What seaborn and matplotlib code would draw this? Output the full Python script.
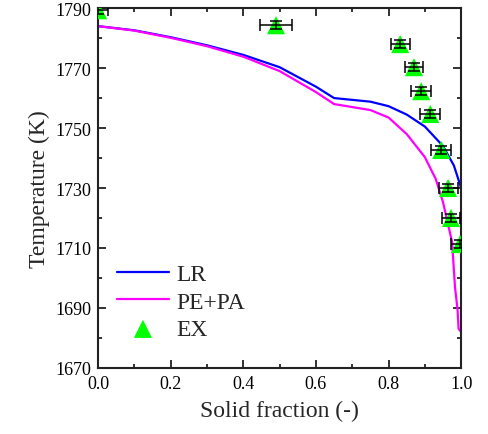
import numpy as np
import pandas as pd
import matplotlib
matplotlib.use("Agg")
import matplotlib.pyplot as plt
from matplotlib.ticker import MultipleLocator, FixedLocator
import seaborn as sns

# Data
lr_x = [0.0, 0.1, 0.2, 0.3, 0.4, 0.5, 0.6, 0.65, 0.75, 0.8, 0.85, 0.9, 0.95, 0.98, 1.0]
lr_y = [1784, 1782.6, 1780.3, 1777.6, 1774.4, 1770.3, 1763.8, 1760, 1758.8, 1757.3, 1754.5, 1750.5, 1744, 1737.5, 1730]
pe_x = [0.0, 0.1, 0.2, 0.3, 0.4, 0.5, 0.6, 0.65, 0.75, 0.8, 0.85, 0.9, 0.93, 0.95, 0.975, 0.983, 0.99, 0.993, 1.0]
pe_y = [1784, 1782.5, 1780.1, 1777.3, 1773.8, 1769, 1762, 1758, 1756, 1753.5, 1748, 1740.3, 1733, 1725.3, 1712, 1697, 1689.5, 1683, 1682]
ex_x = [0.0, 0.49, 0.832, 0.870, 0.890, 0.915, 0.945, 0.964, 0.972, 0.997]
ex_y = [1789.3, 1784.3, 1778, 1770.3, 1762.3, 1754.7, 1742.7, 1730, 1720, 1711.3]
ex_xerr = [0.026, 0.045, 0.026, 0.026, 0.027, 0.027, 0.027, 0.026, 0.026, 0.026]
ex_yerr = [1.3, 1.3, 1.3, 1.3, 1.3, 1.3, 1.3, 1.3, 1.3, 1.3]
y_ticks = [1670, 1690, 1710, 1730, 1750, 1770, 1790]
x_ticks = [0.0, 0.2, 0.4, 0.6, 0.8, 1.0]
x_ticklabels = ["0.0", "0.2", "0.4", "0.6", "0.8", "1.0"]

sns.set_style("ticks")
plt.rcParams['font.family'] = ['Liberation Serif', 'DejaVu Serif']

fig = plt.figure(figsize=(4.88, 4.35), dpi=100)
ax = fig.add_axes([0.201, 0.152, 0.744, 0.827])

lr = pd.DataFrame({"x": lr_x, "y": lr_y})
pe = pd.DataFrame({"x": pe_x, "y": pe_y})
ex = pd.DataFrame({"x": ex_x, "y": ex_y})

sns.lineplot(data=lr, x="x", y="y", ax=ax, color="#0000FF", lw=1.6,
             sort=False, estimator=None, label="LR", zorder=2)
sns.lineplot(data=pe, x="x", y="y", ax=ax, color="#FF00FF", lw=1.6,
             sort=False, estimator=None, label="PE+PA", zorder=2)
sns.scatterplot(data=ex, x="x", y="y", ax=ax, marker="^", s=170, color="#00FF00",
                edgecolor="none", linewidth=0, label="EX", zorder=3)
ax.errorbar(ex_x, ex_y, xerr=ex_xerr, yerr=ex_yerr, fmt="none", ecolor="black",
            elinewidth=1.1, capsize=4, capthick=1.1, zorder=4)

ax.set_xlim(0, 1.0)
ax.set_ylim(1670, 1790)
ax.set_xticks(x_ticks)
ax.set_xticklabels(x_ticklabels)
ax.xaxis.set_minor_locator(MultipleLocator(0.1))
ax.set_yticks(y_ticks)
ax.yaxis.set_minor_locator(FixedLocator([t + 10 for t in y_ticks[:-1]]))
ax.tick_params(which="both", direction="in", top=True, right=True, width=1.3,
               labelsize=13, colors="#222222", labelcolor="black")
ax.tick_params(which="major", length=6, pad=5)
ax.tick_params(which="minor", length=3)
for s in ax.spines.values():
    s.set_linewidth(1.5)
    s.set_color("#222222")

ax.set_xlabel("Solid fraction (-)", fontsize=17, labelpad=6)
ax.set_ylabel("Temperature (K)", fontsize=17, labelpad=4)

ax.legend(loc="lower left", bbox_to_anchor=(0.0, 0.025), frameon=False, fontsize=17,
          handlelength=2.2, handletextpad=0.3, labelspacing=0.25, borderaxespad=0.6,
          borderpad=0.2)

fig.savefig("out.png", dpi=100)
